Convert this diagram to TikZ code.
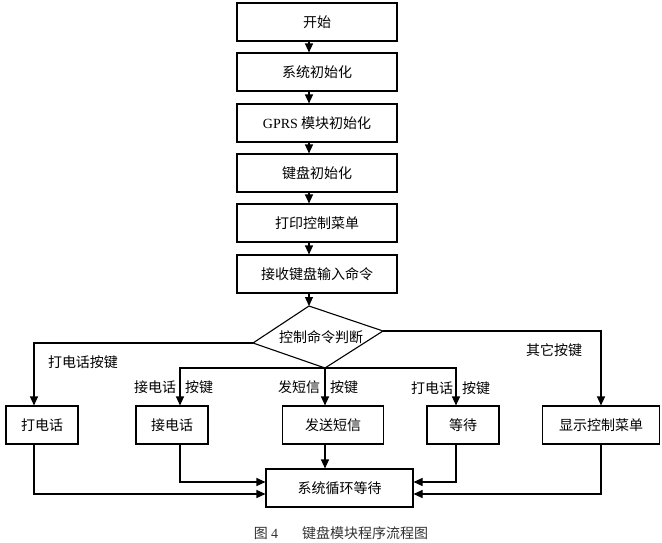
\documentclass[tikz,border=0pt]{standalone}
\usepackage{fontspec}
\setmainfont{Liberation Serif}
\newfontfamily\cjk{Noto Sans CJK SC}
\usetikzlibrary{arrows.meta}
\begin{document}
\begin{tikzpicture}[x=1pt,y=-1pt,
  txt/.style={font=\cjk\fontsize{14}{14}\selectfont,inner sep=0pt},
  box/.style={txt,draw,line width=1.1pt,minimum height=38pt,anchor=center},
  topbox/.style={box,minimum width=160pt},
  arr/.style={line width=1.1pt,-{Triangle[length=9pt,width=8pt]}},
  ln/.style={line width=1.1pt}]
\useasboundingbox (0,0) rectangle (662,542);
\fill[white] (0,0) rectangle (662,542);
% top column
\node[topbox] (b1) at (317,22) {开始};
\node[topbox] (b2) at (317,72) {系统初始化};
\node[topbox] (b3) at (317,123) {{\rmfamily GPRS} 模块初始化};
\node[topbox] (b4) at (317,173) {键盘初始化};
\node[topbox] (b5) at (317,223) {打印控制菜单};
\node[topbox] (b6) at (317,274) {接收键盘输入命令};
\foreach \a/\b in {b1/b2,b2/b3,b3/b4,b4/b5,b5/b6}
  \draw[arr] ([xshift=-8pt]\a.south) -- ([xshift=-8pt]\b.north);
% decision
\coordinate (dT) at (309,306);
\coordinate (dR) at (383,331);
\coordinate (dB) at (325,368);
\coordinate (dL) at (253,343);
\draw[ln] (dT) -- (dR) -- (dB) -- (dL) -- cycle;
\node[txt] (dtext) at (321,337) {控制命令判断};
\draw[arr] ([xshift=-8pt]b6.south) -- (dT);
% bottom boxes
\node[box,minimum width=72pt] (k1) at (42,425) {打电话};
\node[box,minimum width=72pt] (k2) at (172,425) {接电话};
\node[box,minimum width=101pt] (k3) at (333,425) {发送短信};
\node[box,minimum width=72pt] (k4) at (463,425) {等待};
\node[box,minimum width=117pt] (k5) at (601,425) {显示控制菜单};
\node[box,minimum width=147pt] (sys) at (339.5,488) {系统循环等待};
% branches
\draw[arr] (dL) -| ([xshift=-8pt]k1.north);
\draw[arr] (dR) -| (k5.north);
\draw[arr] (dB) -| ([xshift=8pt]k2.north);
\draw[arr] (dB) -- ([xshift=-8pt]k3.north);
\draw[arr] (dB) -| ([xshift=-7pt]k4.north);
% labels
\node[txt] (l1) at (83,362) {打电话按键};
\node[txt] (l5) at (554,350) {其它按键};
\node[txt] (l2a) at (155,387) {接电话};
\node[txt] (l2b) at (199,387) {按键};
\node[txt] (l3a) at (299,387) {发短信};
\node[txt] (l3b) at (344,387) {按键};
\node[txt] (l4a) at (432,388) {打电话};
\node[txt] (l4b) at (476,388) {按键};
% to system loop
\draw[arr] ([xshift=-8pt]k1.south) |- ([yshift=-6pt]sys.west);
\draw[arr] ([xshift=8pt]k2.south) |- ([yshift=6pt]sys.west);
\draw[arr] ([xshift=-8pt]k3.south) -- ([xshift=-8pt]k3.south |- sys.north);
\draw[arr] ([xshift=-7pt]k4.south) |- ([yshift=6pt]sys.east);
\draw[arr] (k5.south) |- ([yshift=-6pt]sys.east);
% caption
\node[txt,text=black!80] (cap1) at (266,533) {图 {\rmfamily 4}};
\node[txt,text=black!80] (cap2) at (365,533) {键盘模块程序流程图};
\end{tikzpicture}
\end{document}
